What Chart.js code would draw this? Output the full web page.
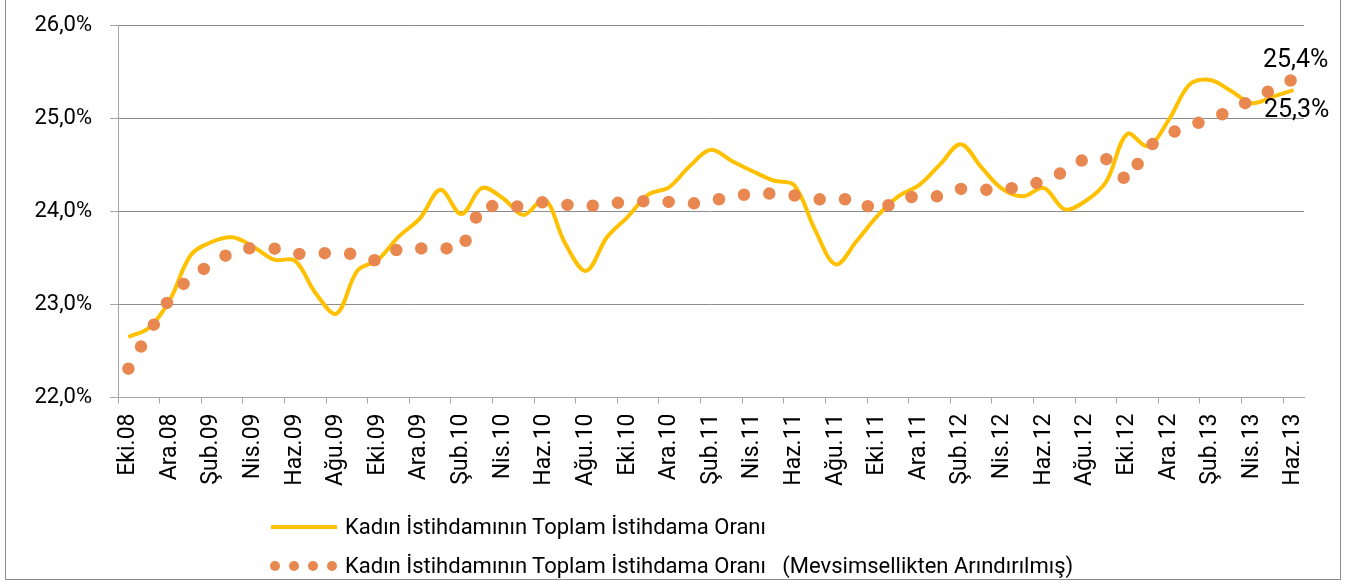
<!DOCTYPE html>
<html>
<head>
<meta charset="utf-8">
<script src="https://cdn.jsdelivr.net/npm/chart.js@4.4.1/dist/chart.umd.min.js"></script>
<style>
    html, body { margin: 0; padding: 0; background: #fff; }
    #wrap { position: relative; width: 1347px; height: 583px; overflow: hidden; font-family: Roboto, sans-serif; }
    #frame { position: absolute; left: 5px; top: -1px; width: 1336px; height: 581px; border: 1px solid #8c8c8c; box-sizing: border-box; pointer-events: none; }
    #chart { position: absolute; left: 0; top: 0; }
    .leg-row { position: absolute; left: 0; height: 30px; }
    .leg-line { position: absolute; left: 271px; top: 13px; width: 66px; height: 4px; background: #FFC000; }
    .leg-dot { position: absolute; top: 10px; width: 10px; height: 10px; border-radius: 50%; background: #E8874F; }
    .leg-text { position: absolute; left: 345px; top: 0; line-height: 30px; font-size: 22px; color: #000; white-space: pre; }
</style>
</head>
<body>
<div id="wrap">
    <canvas id="chart" width="1347" height="583"></canvas>
    <div class="leg-row" style="top:512px">
        <div class="leg-line"></div>
        <span class="leg-text">Kadın İstihdamının Toplam İstihdama Oranı</span>
    </div>
    <div class="leg-row" style="top:551px">
        <div class="leg-dot" style="left:270px"></div>
        <div class="leg-dot" style="left:289px"></div>
        <div class="leg-dot" style="left:308px"></div>
        <div class="leg-dot" style="left:327px"></div>
        <span class="leg-text">Kadın İstihdamının Toplam İstihdama Oranı   (Mevsimsellikten Arındırılmış)</span>
    </div>
    <div id="frame"></div>
</div>
<script>
// aylar (Eki.08 - Haz.13), eksende her ikinci ay yazılıyor
var months = [
    'Eki.08', 'Kas.08', 'Ara.08', 'Oca.09', 'Şub.09', 'Mar.09', 'Nis.09', 'May.09', 'Haz.09', 'Tem.09',
    'Ağu.09', 'Eyl.09', 'Eki.09', 'Kas.09', 'Ara.09', 'Oca.10', 'Şub.10', 'Mar.10', 'Nis.10', 'May.10',
    'Haz.10', 'Tem.10', 'Ağu.10', 'Eyl.10', 'Eki.10', 'Kas.10', 'Ara.10', 'Oca.11', 'Şub.11', 'Mar.11',
    'Nis.11', 'May.11', 'Haz.11', 'Tem.11', 'Ağu.11', 'Eyl.11', 'Eki.11', 'Kas.11', 'Ara.11', 'Oca.12',
    'Şub.12', 'Mar.12', 'Nis.12', 'May.12', 'Haz.12', 'Tem.12', 'Ağu.12', 'Eyl.12', 'Eki.12', 'Kas.12',
    'Ara.12', 'Oca.13', 'Şub.13', 'Mar.13', 'Nis.13', 'May.13', 'Haz.13'
];

// Kadın istihdamının toplam istihdama oranı (%)
var rawRate = [
    22.65, 22.75, 23.05, 23.53, 23.67, 23.72, 23.62, 23.48, 23.47, 23.12,
    22.90, 23.36, 23.48, 23.73, 23.92, 24.23, 23.97, 24.25, 24.14, 23.96,
    24.13, 23.65, 23.36, 23.72, 23.94, 24.18, 24.26, 24.49, 24.66, 24.54,
    24.43, 24.33, 24.28, 23.80, 23.43, 23.68, 23.95, 24.16, 24.28, 24.50,
    24.72, 24.47, 24.24, 24.16, 24.25, 24.02, 24.11, 24.32, 24.83, 24.70,
    24.98, 25.36, 25.41, 25.29, 25.16, 25.23, 25.30
];

// mevsimsellikten arındırılmış (%)
var saRate = [
    22.31, 22.70, 23.07, 23.30, 23.43, 23.57, 23.61, 23.60, 23.54, 23.55,
    23.55, 23.54, 23.46, 23.60, 23.60, 23.61, 23.58, 24.08, 24.03, 24.06,
    24.10, 24.07, 24.05, 24.08, 24.10, 24.11, 24.10, 24.08, 24.11, 24.16,
    24.19, 24.19, 24.17, 24.13, 24.12, 24.14, 23.98, 24.14, 24.16, 24.16,
    24.24, 24.23, 24.23, 24.27, 24.32, 24.43, 24.57, 24.56, 24.32, 24.69,
    24.83, 24.92, 24.99, 25.08, 25.20, 25.31, 25.42
];

var yTicks = [22, 23, 24, 25, 26];

var axisGrey = '#a6a6a6';
var gridGrey = '#8c8c8c';

function pct(v) {
    return v.toFixed(1).replace('.', ',') + '%';
}

// son değer etiketleri
var endLabels = {
    id: 'endLabels',
    afterDatasetsDraw: function (chart) {
        var ctx = chart.ctx;
        var saPts = chart.getDatasetMeta(0).data;
        var rawPts = chart.getDatasetMeta(1).data;
        var a = saPts[saPts.length - 1];
        var b = rawPts[rawPts.length - 1];
        ctx.save();
        ctx.font = '25px Roboto';
        ctx.fillStyle = '#000';
        ctx.textAlign = 'center';
        ctx.textBaseline = 'middle';
        ctx.fillText(pct(saRate[saRate.length - 1]), a.x + 2, a.y - 18);
        ctx.fillText(pct(rawRate[rawRate.length - 1]), b.x + 3, b.y + 21);
        ctx.restore();
    }
};

new Chart(document.getElementById('chart').getContext('2d'), {
    type: 'line',
    data: {
        labels: months,
        datasets: [
            {
                label: 'Kadın İstihdamının Toplam İstihdama Oranı   (Mevsimsellikten Arındırılmış)',
                data: saRate,
                borderColor: '#E8874F',
                borderWidth: 12.5,
                borderDash: [0, 25.4],
                borderCapStyle: 'round',
                pointRadius: 0,
                tension: 0,
                fill: false
            },
            {
                label: 'Kadın İstihdamının Toplam İstihdama Oranı',
                data: rawRate,
                borderColor: '#FFC000',
                borderWidth: 4,
                pointRadius: 0,
                tension: 0.35,
                fill: false
            }
        ]
    },
    options: {
        responsive: false,
        animation: false,
        layout: { padding: { top: 25, right: 43, left: 0, bottom: 0 } },
        plugins: {
            legend: { display: false },
            tooltip: { enabled: false }
        },
        scales: {
            x: {
                offset: true,
                afterFit: function (s) {
                    s.height = 185.5;
                    s.paddingLeft = 0;
                    s.paddingRight = 0;
                },
                grid: {
                    offset: true,
                    drawOnChartArea: false,
                    tickLength: 6,
                    tickColor: function (c) { return c.index % 2 === 0 ? axisGrey : 'rgba(0,0,0,0)'; }
                },
                border: { color: axisGrey, width: 1 },
                ticks: {
                    autoSkip: false,
                    minRotation: 90,
                    maxRotation: 90,
                    padding: 10,
                    color: '#000',
                    font: { family: 'Roboto', size: 23 },
                    callback: function (val, idx) { return idx % 2 === 0 ? months[idx] : ''; }
                }
            },
            y: {
                min: 22,
                max: 26,
                afterFit: function (s) {
                    s.width = 118;
                    s.paddingTop = 0;
                    s.paddingBottom = 0;
                },
                afterBuildTicks: function (s) {
                    s.ticks = yTicks.map(function (v) { return { value: v }; });
                },
                grid: { color: gridGrey, tickColor: axisGrey, tickLength: 8 },
                border: { color: axisGrey, width: 1 },
                ticks: {
                    padding: 18,
                    color: '#000',
                    font: { family: 'Roboto', size: 22 },
                    callback: function (v) { return pct(v); }
                }
            }
        }
    },
    plugins: [endLabels]
});
</script>
</body>
</html>
